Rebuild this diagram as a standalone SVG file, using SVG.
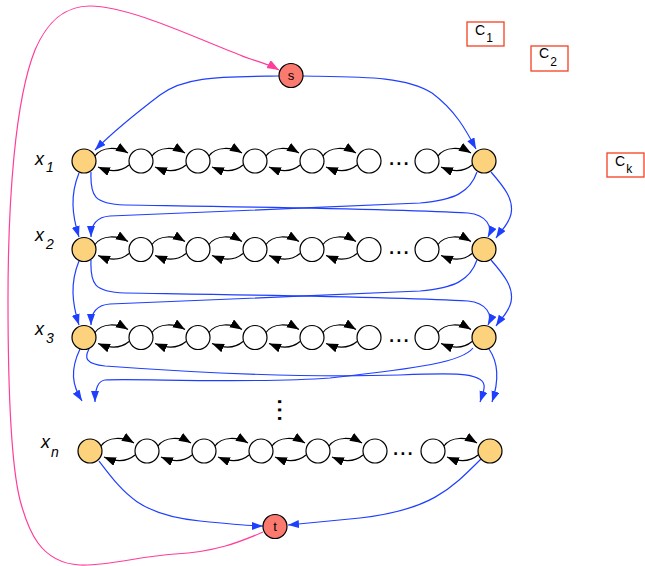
<svg xmlns="http://www.w3.org/2000/svg" xmlns:xlink="http://www.w3.org/1999/xlink" width="645" height="566" viewBox="0 0 645 566">
<style>
.o{fill:#fdd27c;stroke:#000;stroke-width:1.2}
.w{fill:#fff;stroke:#000;stroke-width:1.2}
.r{fill:#fb7a70;stroke:#000;stroke-width:1.2}
.bl{fill:none;stroke:#1f3fff;stroke-width:1.2;marker-end:url(#ablue)}
.pk{fill:none;stroke:#ff3d9a;stroke-width:1.2;marker-end:url(#apink)}
.box{fill:#fff;stroke:#f5401f;stroke-width:1.3}
.lab{font-family:"Liberation Sans",Arial,sans-serif;font-style:italic;font-size:18px;fill:#000}
.sub{font-size:14px}
.ct{font-family:"Liberation Sans",Arial,sans-serif;font-size:14px;fill:#000}
.cs{font-size:12px}
.nt{font-family:"Liberation Sans",Arial,sans-serif;font-size:13px;fill:#000;text-anchor:middle}
.dots{font-family:"Liberation Sans",Arial,sans-serif;font-size:26px;fill:#000}
</style>
<defs>
<marker id="ablk" markerUnits="userSpaceOnUse" markerWidth="13" markerHeight="10" refX="12" refY="4.5" orient="auto"><path d="M0,0 L12,4.5 L0,9 Z" fill="#000"/></marker>
<marker id="ablue" markerUnits="userSpaceOnUse" markerWidth="12" markerHeight="10" refX="11" refY="4" orient="auto"><path d="M0,0 L11,4 L0,8 Z" fill="#1f3fff"/></marker>
<marker id="apink" markerUnits="userSpaceOnUse" markerWidth="13" markerHeight="10" refX="12" refY="4.5" orient="auto"><path d="M0,0 L12,4.5 L0,9 Z" fill="#ff3d9a"/></marker>
<g id="pr">
<path d="M11,-5 C18,-15 34,-14 44,-8" fill="none" stroke="#000" stroke-width="1.2" marker-end="url(#ablk)"/>
<path d="M45,4 C37,11 26,11 14,6" fill="none" stroke="#000" stroke-width="1.2" marker-end="url(#ablk)"/>
</g>
</defs>

<g id="connectors">
<path class="pk" d="M263,532 C240,542 215,552 175,554 C140,556 110,566 80,565 C40,563 28,530 20,500 C10,460 8,380 8,300 C8,200 15,100 35,50 C50,15 70,6 90,6 C130,6 200,40 240,55 C250,60 265,62 279,70"/>
<path class="bl" d="M279,76 C220,77 185,76 160,95 C135,114 112,133 95,150"/>
<path class="bl" d="M303,76 C362,77 405,76 432,93 C455,110 466,130 476,149"/>
<g id="c12">
<path class="bl" d="M79,173 C70,195 72,215 79,237"/>
<path class="bl" d="M477,172 C470,192 455,200 420,203 C320,208 160,213 110,216 C96,217 91,226 91,237"/>
<path class="bl" d="M91,172 C90,196 94,204 125,205 C250,207 400,209 468,213 C487,215 493,227 488,237"/>
<path class="bl" d="M491,172 C505,188 514,200 511,214 C509,224 500,232 496,238"/>
</g>
<g id="c23" transform="translate(0,88)">
<path class="bl" d="M79,173 C70,195 72,215 79,237"/>
<path class="bl" d="M477,172 C470,192 455,200 420,203 C320,208 160,213 110,216 C96,217 91,226 91,237"/>
<path class="bl" d="M91,172 C90,196 94,204 125,205 C250,207 400,209 468,213 C487,215 493,227 488,237"/>
<path class="bl" d="M491,172 C505,188 514,200 511,214 C509,224 500,232 496,238"/>
</g>
<g id="c3n">
<path class="bl" d="M80,349 C70,370 72,385 82,401"/>
<path class="bl" d="M473,348 C462,362 420,368 330,378 C250,384 130,378 105,380 C97,381 95,392 95,402"/>
<path class="bl" d="M89,349 C84,358 86,364 105,366 C200,373 300,378 400,375 C450,373 482,372 484,385 C485,392 482,396 480,402"/>
<path class="bl" d="M489,349 C498,362 500,378 492,402"/>
</g>
<path class="bl" d="M99,461 C125,495 140,515 200,521 C230,524 250,526 263,526"/>
<path class="bl" d="M481,459 C450,490 430,510 360,518 C320,522 300,524 288,525"/>
<g id="chains">
<use xlink:href="#pr" x="84" y="161"/><use xlink:href="#pr" x="141" y="161"/><use xlink:href="#pr" x="198" y="161"/><use xlink:href="#pr" x="255" y="161"/><use xlink:href="#pr" x="312" y="161"/><use xlink:href="#pr" x="427" y="161"/>
<use xlink:href="#pr" x="84" y="249.5"/><use xlink:href="#pr" x="141" y="249.5"/><use xlink:href="#pr" x="198" y="249.5"/><use xlink:href="#pr" x="255" y="249.5"/><use xlink:href="#pr" x="312" y="249.5"/><use xlink:href="#pr" x="427" y="249.5"/>
<use xlink:href="#pr" x="84" y="337.5"/><use xlink:href="#pr" x="141" y="337.5"/><use xlink:href="#pr" x="198" y="337.5"/><use xlink:href="#pr" x="255" y="337.5"/><use xlink:href="#pr" x="312" y="337.5"/><use xlink:href="#pr" x="427" y="337.5"/>
<use xlink:href="#pr" x="90" y="451"/><use xlink:href="#pr" x="147" y="451"/><use xlink:href="#pr" x="204" y="451"/><use xlink:href="#pr" x="261" y="451"/><use xlink:href="#pr" x="318" y="451"/><use xlink:href="#pr" x="433" y="451"/>
</g>
</g>

<g id="s"><circle class="r" cx="291" cy="75.5" r="12"/><text class="nt" x="291" y="80">s</text></g>
<g id="t"><circle class="r" cx="275" cy="526.5" r="12"/><text class="nt" x="275" y="531">t</text></g>

<g id="row1">
<g id="x1_L"><circle class="o" cx="84" cy="161" r="12"/></g>
<g id="x1_1"><circle class="w" cx="141" cy="161" r="12"/></g>
<g id="x1_2"><circle class="w" cx="198" cy="161" r="12"/></g>
<g id="x1_3"><circle class="w" cx="255" cy="161" r="12"/></g>
<g id="x1_4"><circle class="w" cx="312" cy="161" r="12"/></g>
<g id="x1_5"><circle class="w" cx="369" cy="161" r="12"/></g>
<g id="x1_6"><circle class="w" cx="427" cy="161" r="12"/></g>
<g id="x1_R"><circle class="o" cx="484" cy="161" r="12"/></g>
<text class="dots" x="388" y="165">...</text>
</g>
<g id="row2">
<g id="x2_L"><circle class="o" cx="84" cy="249.5" r="12"/></g>
<g id="x2_1"><circle class="w" cx="141" cy="249.5" r="12"/></g>
<g id="x2_2"><circle class="w" cx="198" cy="249.5" r="12"/></g>
<g id="x2_3"><circle class="w" cx="255" cy="249.5" r="12"/></g>
<g id="x2_4"><circle class="w" cx="312" cy="249.5" r="12"/></g>
<g id="x2_5"><circle class="w" cx="369" cy="249.5" r="12"/></g>
<g id="x2_6"><circle class="w" cx="427" cy="249.5" r="12"/></g>
<g id="x2_R"><circle class="o" cx="484" cy="249.5" r="12"/></g>
<text class="dots" x="388" y="253.5">...</text>
</g>
<g id="row3">
<g id="x3_L"><circle class="o" cx="84" cy="337.5" r="12"/></g>
<g id="x3_1"><circle class="w" cx="141" cy="337.5" r="12"/></g>
<g id="x3_2"><circle class="w" cx="198" cy="337.5" r="12"/></g>
<g id="x3_3"><circle class="w" cx="255" cy="337.5" r="12"/></g>
<g id="x3_4"><circle class="w" cx="312" cy="337.5" r="12"/></g>
<g id="x3_5"><circle class="w" cx="369" cy="337.5" r="12"/></g>
<g id="x3_6"><circle class="w" cx="427" cy="337.5" r="12"/></g>
<g id="x3_R"><circle class="o" cx="484" cy="337.5" r="12"/></g>
<text class="dots" x="388" y="341.5">...</text>
</g>
<g id="rown">
<g id="xn_L"><circle class="o" cx="90" cy="451" r="12"/></g>
<g id="xn_1"><circle class="w" cx="147" cy="451" r="12"/></g>
<g id="xn_2"><circle class="w" cx="204" cy="451" r="12"/></g>
<g id="xn_3"><circle class="w" cx="261" cy="451" r="12"/></g>
<g id="xn_4"><circle class="w" cx="318" cy="451" r="12"/></g>
<g id="xn_5"><circle class="w" cx="375" cy="451" r="12"/></g>
<g id="xn_6"><circle class="w" cx="433" cy="451" r="12"/></g>
<g id="xn_R"><circle class="o" cx="490" cy="451" r="12"/></g>
<text class="dots" x="392" y="455">...</text>
</g>
<text class="dots" x="277.5" y="397.5" transform="rotate(90 277.5 397.5)" style="font-size:30px">...</text>

<g id="labels">
<text class="lab" x="35" y="165">x<tspan class="sub" dx="2" y="172">1</tspan></text>
<text class="lab" x="35" y="241">x<tspan class="sub" dx="2" y="249">2</tspan></text>
<text class="lab" x="35" y="335">x<tspan class="sub" dx="2" y="343">3</tspan></text>
<text class="lab" x="41" y="448">x<tspan class="sub" dx="1" y="457">n</tspan></text>
</g>

<g id="C1"><rect class="box" x="467" y="22" width="37" height="24"/><text class="ct" x="475" y="35">C<tspan class="cs" dx="1" y="42">1</tspan></text></g>
<g id="C2"><rect class="box" x="531" y="46" width="37" height="25"/><text class="ct" x="539" y="58">C<tspan class="cs" dx="1" y="66">2</tspan></text></g>
<g id="Ck"><rect class="box" x="607" y="153" width="37" height="24"/><text class="ct" x="615" y="165.5">C<tspan class="cs" dx="1" y="173">k</tspan></text></g>
</svg>
